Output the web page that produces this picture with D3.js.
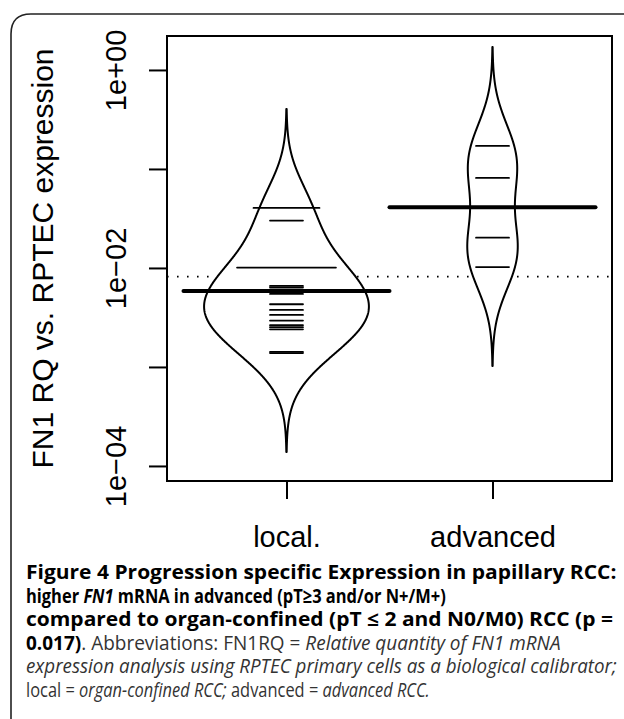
<!DOCTYPE html>
<html>
<head>
<meta charset="utf-8">
<script src="https://cdn.jsdelivr.net/npm/d3@7"></script>
<style>
  html, body { margin: 0; padding: 0; background: #fff; }
  svg { display: block; }
</style>
</head>
<body>
<svg id="chart" width="624" height="719"></svg>
<script>
// FN1 RQ values (log scale)
const groups = ['local.', 'advanced'];
const localRQ = [0.0404, 0.0404, 0.0301, 0.0101, 0.0101, 0.0101, 0.00658, 0.00635,
  0.00546, 0.00430, 0.00377, 0.00335, 0.00294, 0.00264, 0.00252, 0.00240, 0.00142, 0.00138];
const advancedRQ = [0.171, 0.0811, 0.0202, 0.0102];
const beanMeans = [0.00586, 0.0410];
const overallMean = 0.00817;
const yTicks = [1, 0.1, 0.01, 0.001, 0.0001];
const yTickLabels = ['1e+00', '', '1e\u221202', '', '1e\u221204'];

// beanplot settings
const bw = 0.333, cut = 3, grownage = 10, maxwidth = 0.8, ll = 0.16;

const svg = d3.select('#chart');
const font = '"Liberation Sans", Arial, sans-serif';

// frame round the figure
svg.append('path')
  .attr('d', 'M11,730 L11,34 Q11,14 31,14 L640,14')
  .attr('fill', 'none').attr('stroke', '#222').attr('stroke-width', 1.6);

const x = d3.scaleLinear().domain([0.42, 2.58]).range([167, 612]);
const y = d3.scaleLog().domain([Math.pow(10, -4.152), Math.pow(10, 0.343)]).range([481, 36]);

function density(vals) {
  const lv = vals.map(Math.log10);
  const lo = d3.min(lv) - cut * bw, hi = d3.max(lv) + cut * bw;
  return d3.range(512).map(i => {
    const t = lo + (hi - lo) * i / 511;
    const d = d3.mean(lv, v => Math.exp(-0.5 * ((t - v) / bw) ** 2)) / (bw * Math.sqrt(2 * Math.PI));
    return {t, d};
  });
}

const beans = [localRQ, advancedRQ].map((vals, i) => {
  const grow = Math.min(1, vals.length / grownage);
  const dens = density(vals).map(p => ({t: p.t, d: p.d * grow}));
  return {at: i + 1, vals, dens};
});
const maxD = d3.max(beans, b => d3.max(b.dens, p => p.d));

const g = svg.append('g');

// overall mean (dotted)
g.append('line')
  .attr('x1', x.range()[0]).attr('x2', x.range()[1])
  .attr('y1', y(overallMean)).attr('y2', y(overallMean))
  .attr('stroke', '#000').attr('stroke-width', 1.6)
  .attr('stroke-dasharray', '1.6,8.4');

// bean outlines
const area = d3.area()
  .y(p => y(Math.pow(10, p.t)));
beans.forEach(b => {
  area.x0(p => x(b.at - p.d / maxD * maxwidth / 2))
      .x1(p => x(b.at + p.d / maxD * maxwidth / 2));
  g.append('path')
    .attr('d', area(b.dens))
    .attr('fill', '#fff').attr('stroke', '#000')
    .attr('stroke-width', 2).attr('stroke-linejoin', 'round');
});

// bean lines, equal values stacked side by side
beans.forEach(b => {
  const counts = d3.rollups(b.vals, v => v.length, v => v);
  g.selectAll(null).data(counts).enter().append('line')
    .attr('x1', d => x(b.at - d[1] * ll / 2))
    .attr('x2', d => x(b.at + d[1] * ll / 2))
    .attr('y1', d => y(d[0])).attr('y2', d => y(d[0]))
    .attr('stroke', '#000').attr('stroke-width', 1.8).attr('stroke-linecap', 'round');
});

// bean averages
g.selectAll(null).data(beanMeans).enter().append('line')
  .attr('x1', (d, i) => x(i + 1 - 0.5)).attr('x2', (d, i) => x(i + 1 + 0.5))
  .attr('y1', d => y(d)).attr('y2', d => y(d))
  .attr('stroke', '#000').attr('stroke-width', 4).attr('stroke-linecap', 'round');

// box
svg.append('rect')
  .attr('x', 167).attr('y', 36).attr('width', 612 - 167).attr('height', 481 - 36)
  .attr('fill', 'none').attr('stroke', '#000').attr('stroke-width', 2);

// axes
const yAxis = svg.append('g')
  .attr('transform', 'translate(167,0)')
  .call(d3.axisLeft(y).tickValues(yTicks).tickSize(18).tickSizeOuter(0)
    .tickFormat((d, i) => yTickLabels[i]));
yAxis.select('.domain').remove();
yAxis.selectAll('.tick line').attr('stroke-width', 2);
yAxis.selectAll('.tick text')
  .attr('x', 0).attr('dy', 0)
  .attr('transform', 'translate(-41,0) rotate(-90)')
  .attr('text-anchor', 'middle')
  .attr('font-family', font).attr('font-size', 29).attr('fill', '#000');

const xAxis = svg.append('g')
  .attr('transform', 'translate(0,481)')
  .call(d3.axisBottom(x).tickValues([1, 2]).tickSize(18).tickSizeOuter(0)
    .tickFormat((d, i) => groups[i]));
xAxis.select('.domain').remove();
xAxis.selectAll('.tick line').attr('stroke-width', 2);
xAxis.selectAll('.tick text')
  .attr('y', 66).attr('dy', 0)
  .attr('font-family', font).attr('font-size', 29).attr('fill', '#000');

svg.append('text')
  .attr('transform', 'translate(53,258.5) rotate(-90)')
  .attr('text-anchor', 'middle')
  .attr('font-family', font).attr('font-size', 30)
  .text('FN1 RQ vs. RPTEC expression');

// caption
const captionLines = [
  [['b', 'Figure 4 Progression specific Expression in papillary RCC:']],
  [['b', 'higher '], ['bi', 'FN1'], ['b', ' mRNA in advanced (pT\u22653 and/or N+/M+)']],
  [['b', 'compared to organ-confined (pT \u2264 2 and N0/M0) RCC (p =']],
  [['b', '0.017)'], ['r', '. Abbreviations: FN1RQ = '], ['i', 'Relative quantity of FN1 mRNA']],
  [['i', 'expression analysis using RPTEC primary cells as a biological calibrator;']],
  [['r', 'local = '], ['i', 'organ-confined RCC;'], ['r', ' advanced = '], ['i', 'advanced RCC.']]
];
const captionWidths = [591, 420, 587, 535, 591, 404];
const capFont = '"Open Sans", "Noto Sans", sans-serif';

captionLines.forEach((line, i) => {
  const ty = 579 + i * 23.5;
  const t = svg.append('text')
    .attr('font-family', capFont).attr('font-size', 19.5)
    .attr('transform', `translate(26,${ty})`);
  line.forEach(([s, str]) => {
    t.append('tspan')
      .attr('font-weight', s[0] === 'b' ? 700 : 400)
      .attr('font-style', s.includes('i') ? 'italic' : 'normal')
      .attr('fill', s[0] === 'b' ? '#000' : '#333')
      .text(str);
  });
  const w = t.node().getComputedTextLength();
  t.attr('transform', `translate(26,${ty}) scale(${captionWidths[i] / w},1)`);
});
</script>
</body>
</html>
